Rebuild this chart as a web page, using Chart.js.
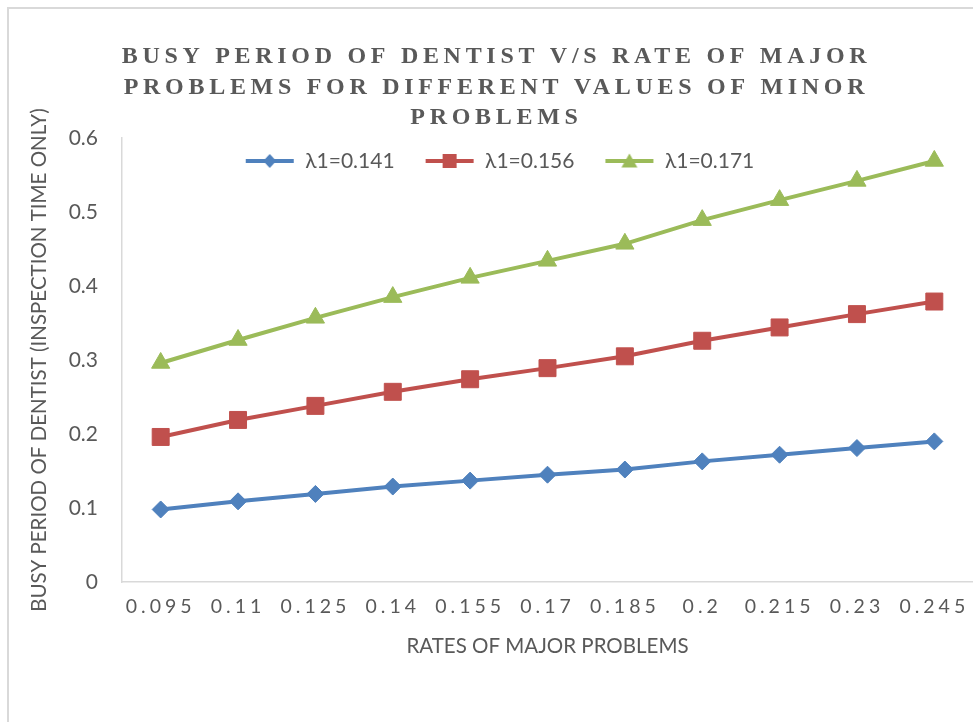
<!DOCTYPE html>
<html>
<head>
<meta charset="utf-8">
<script src="https://cdn.jsdelivr.net/npm/chart.js@4.4.0/dist/chart.umd.min.js"></script>
<style>
  html, body { margin: 0; padding: 0; background: #fff; overflow: hidden; }
  #wrap { width: 973px; height: 722px; }
</style>
</head>
<body>
<div id="wrap"><canvas id="myChart" width="973" height="722"></canvas></div>
<script>
// rates of major problems (x categories)
const rates = ['0.095', '0.11', '0.125', '0.14', '0.155', '0.17', '0.185', '0.2', '0.215', '0.23', '0.245'];

// busy period of dentist, one list per value of lambda1
const busy141 = [0.098, 0.109, 0.119, 0.129, 0.137, 0.145, 0.152, 0.163, 0.172, 0.181, 0.190];
const busy156 = [0.196, 0.219, 0.238, 0.257, 0.274, 0.289, 0.305, 0.326, 0.344, 0.362, 0.379];
const busy171 = [0.296, 0.327, 0.357, 0.385, 0.411, 0.434, 0.457, 0.489, 0.516, 0.542, 0.569];

const seriesNames = ['λ1=0.141', 'λ1=0.156', 'λ1=0.171'];
const titleLines = ['BUSY PERIOD OF DENTIST V/S RATE OF MAJOR', 'PROBLEMS FOR DIFFERENT VALUES OF MINOR', 'PROBLEMS'];
const yTitle = 'BUSY PERIOD OF DENTIST (INSPECTION TIME ONLY)';
const xTitle = 'RATES OF MAJOR PROBLEMS';

const GREY = '#595959';
const AXIS = '#d9d9d9';
const BLUE = '#4f81bd';
const RED = '#c0504d';
const GREEN = '#9bbb59';
const SANS = 'Lato, "Open Sans", sans-serif';

// legend symbol: short line with the marker in the middle
function legendIcon(color, shape) {
    let c = document.createElement('canvas');
    c.width = 70;
    c.height = 22;
    let g = c.getContext('2d');
    g.strokeStyle = color;
    g.fillStyle = color;
    g.lineWidth = 4;
    g.beginPath();
    g.moveTo(21, 11);
    g.lineTo(69, 11);
    g.stroke();
    g.beginPath();
    if (shape === 'diamond') {
        g.moveTo(45, 4); g.lineTo(51.5, 11); g.lineTo(45, 18); g.lineTo(38.5, 11);
    } else if (shape === 'square') {
        g.rect(38, 4, 14, 14);
    } else {
        g.moveTo(45, 3.5); g.lineTo(53, 17.5); g.lineTo(37, 17.5);
    }
    g.closePath();
    g.fill();
    return c;
}
const icons = [legendIcon(BLUE, 'diamond'), legendIcon(RED, 'square'), legendIcon(GREEN, 'triangle')];

// wrap a draw method so its text gets letter spacing
function spaced(obj, method, sp) {
    if (!obj || obj['_sp_' + method]) return;
    const orig = obj[method];
    obj[method] = function (...args) {
        this.ctx.save();
        this.ctx.letterSpacing = sp;
        orig.apply(this, args);
        this.ctx.restore();
    };
    obj['_sp_' + method] = true;
}

const layoutFix = {
    id: 'layoutFix',
    afterLayout(chart) {
        spaced(chart.titleBlock, 'draw', '4.7px');
        spaced(chart.scales.x, 'drawLabels', '4px');
        // title sits above the plot, legend floats inside the plot area
        let t = chart.titleBlock;
        let dy = 57 - (t.top + 15.25);
        t.top += dy; t.bottom += dy;
        t.left += 10; t.right += 10;
        let l = chart.legend;
        let ly = 161 - (l.top + 10 + 10.5);
        l.top += ly; l.bottom += ly;
        l.left += 3; l.right += 3;
    },
    beforeDraw(chart) {
        const c = chart.ctx;
        c.save();
        c.fillStyle = '#fff';
        c.fillRect(0, 0, chart.width, chart.height);
        c.strokeStyle = AXIS;
        c.lineWidth = 2;
        c.beginPath();
        c.moveTo(8, chart.height);
        c.lineTo(8, 8);
        c.lineTo(chart.width, 8);
        c.stroke();
        c.restore();
    }
};

function series(name, data, color, style, radius) {
    return {
        label: name,
        data: data,
        borderColor: color,
        backgroundColor: color,
        borderWidth: 4,
        pointStyle: style,
        pointRadius: radius,
        pointHoverRadius: radius,
        pointBorderWidth: 1,
        pointBackgroundColor: color,
        pointBorderColor: color,
        tension: 0
    };
}

let ctx = document.getElementById('myChart');

let myChart = new Chart(ctx, {
    type: 'line',
    data: {
        labels: rates,
        datasets: [
            series(seriesNames[0], busy141, BLUE, 'rectRot', 8.5),
            series(seriesNames[1], busy156, RED, 'rect', 12),
            series(seriesNames[2], busy171, GREEN, 'triangle', 10.5)
        ]
    },
    options: {
        responsive: false,
        animation: false,
        layout: { autoPadding: false, padding: { top: 5.5, left: 0, right: 0, bottom: 0 } },
        plugins: {
            title: {
                display: true,
                text: titleLines,
                color: GREY,
                font: { family: '"Liberation Serif", "Times New Roman", serif', size: 24, weight: 'bold', lineHeight: '30.5px' },
                padding: 0
            },
            legend: {
                display: true,
                position: 'top',
                labels: {
                    color: GREY,
                    font: { family: SANS, size: 21 },
                    padding: 10,
                    usePointStyle: true,
                    pointStyleWidth: 70,
                    generateLabels: (chart) => chart.data.datasets.map((ds, i) => ({
                        text: ds.label,
                        pointStyle: icons[i],
                        fillStyle: ds.borderColor,
                        strokeStyle: ds.borderColor,
                        fontColor: GREY,
                        lineWidth: 0,
                        hidden: false,
                        datasetIndex: i
                    }))
                }
            },
            tooltip: { enabled: false }
        },
        scales: {
            x: {
                offset: true,
                grid: { display: false, drawTicks: false },
                border: { display: true, color: AXIS, width: 1.5 },
                ticks: { color: GREY, font: { family: SANS, size: 19.5 }, padding: 13, maxRotation: 0, autoSkip: false },
                title: { display: true, text: xTitle, color: GREY, font: { family: SANS, size: 20.5 }, padding: { top: 0, bottom: 63.5 } },
                afterFit: (s) => { s.height = 140; s.paddingLeft = 0; s.paddingRight = 0; }
            },
            y: {
                min: 0,
                max: 0.6,
                grid: { display: false, drawTicks: false },
                border: { display: true, color: AXIS, width: 1.5 },
                ticks: { stepSize: 0.1, color: GREY, font: { family: SANS, size: 21 }, padding: 24 },
                title: { display: true, text: yTitle, color: GREY, font: { family: SANS, size: 20.5 }, padding: { top: 27, bottom: 0 } },
                afterFit: (s) => { s.width = 122; s.paddingTop = 0; s.paddingBottom = 0; }
            }
        }
    },
    plugins: [layoutFix]
});
</script>
</body>
</html>
